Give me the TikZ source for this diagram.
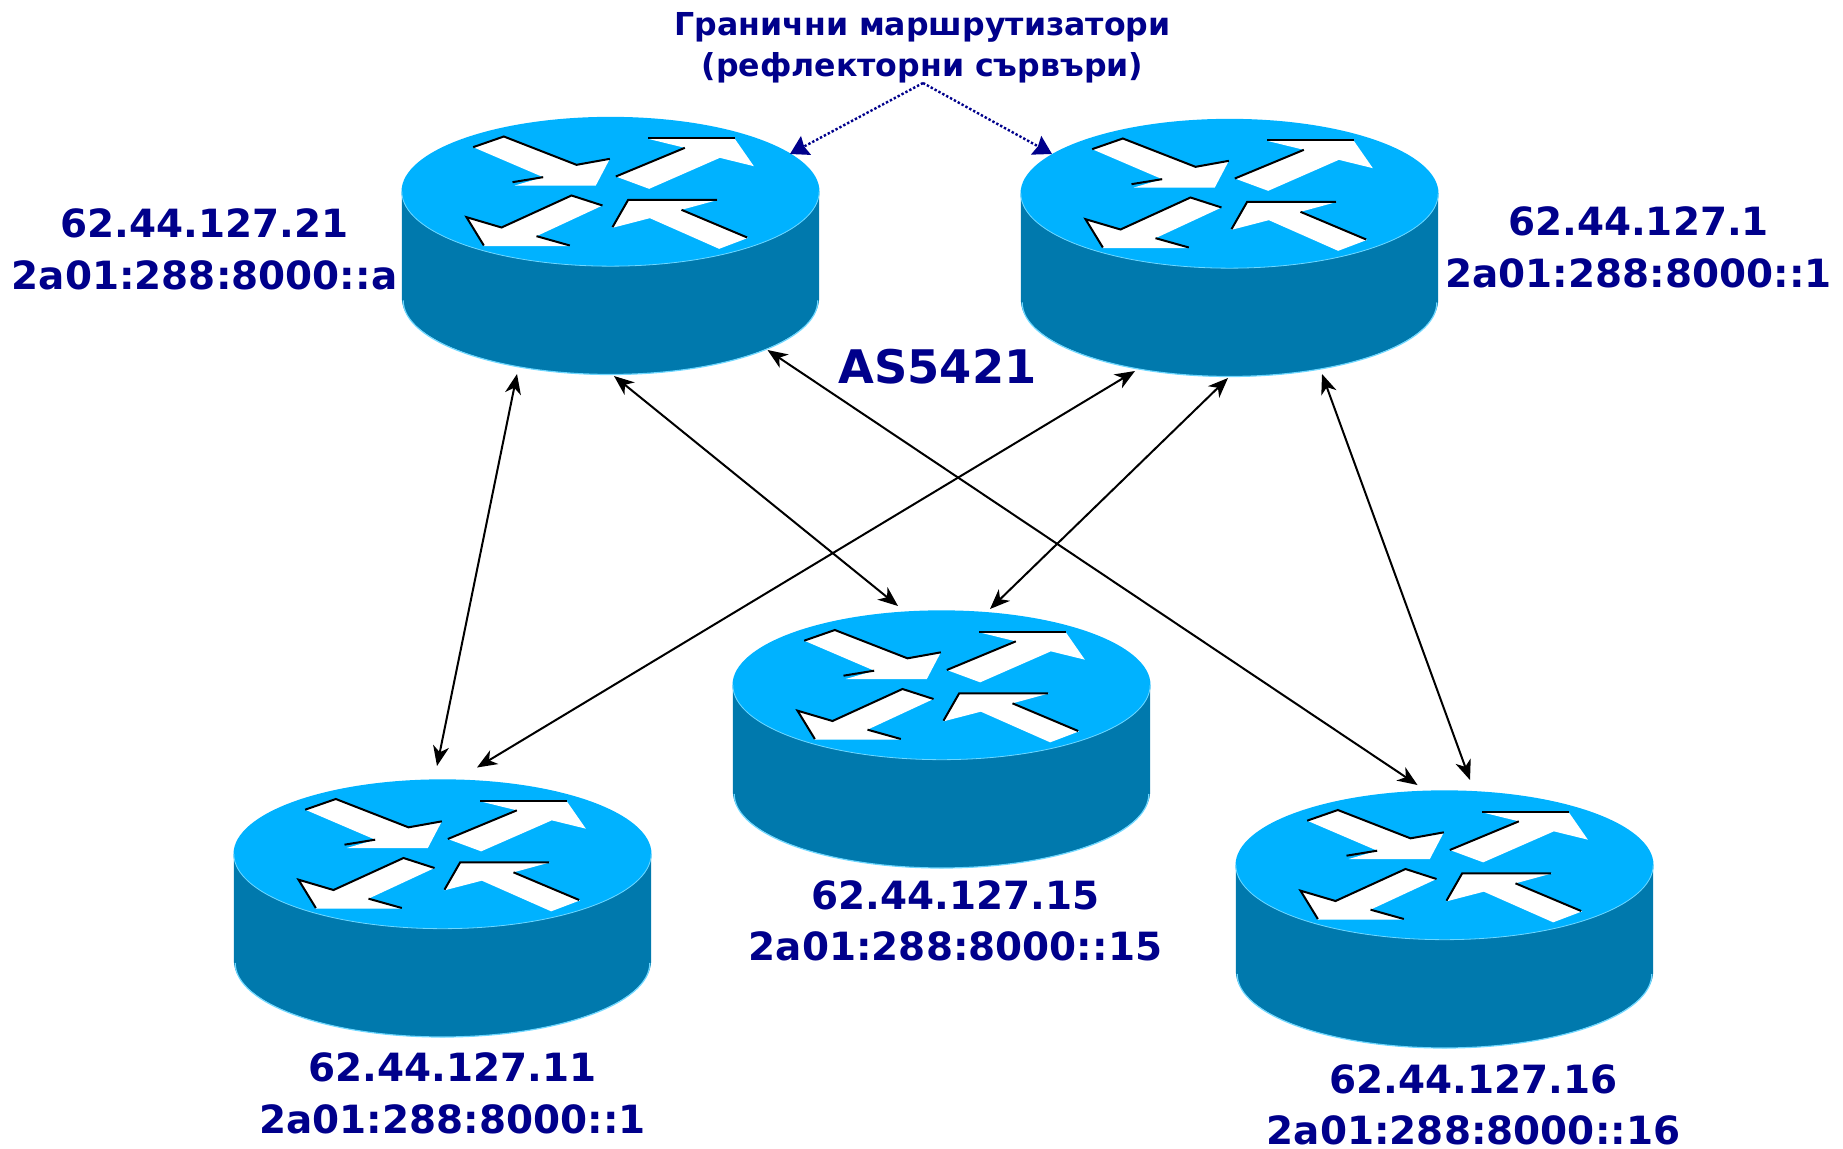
\documentclass[tikz,border=0pt]{standalone}
\usepackage{fontspec}
\setmainfont{DejaVu Sans}
\usetikzlibrary{arrows.meta}
\definecolor{rtop}{RGB}{0,178,255}
\definecolor{rside}{RGB}{0,121,173}
\definecolor{redge}{RGB}{110,215,255}
\definecolor{navy}{RGB}{0,0,139}
\tikzset{
  x=1pt,y=-1pt,
  addr/.style={text=navy,align=center,inner sep=0pt,font=\fontsize{38.9}{51.5}\selectfont\bfseries},
  link/.style={black,line width=2pt,{Stealth[length=20pt,width=16pt,inset=6pt]}-{Stealth[length=20pt,width=16pt,inset=6pt]}},
  refl/.style={navy,line width=2.4pt,dash pattern=on 2.4pt off 2pt,-{Stealth[length=18pt,width=21pt,inset=2pt]}},
  blk/.style={black,line width=2pt,line join=miter},
  pics/router/.style={code={
    \begin{scope}[scale=0.33333,shift={(-692,-273)}]
      \fill[rside] (66,273) -- (66,592) arc[start angle=180,end angle=0,x radius=626,y radius=230] -- (1318,273) -- cycle;
      \draw[redge,line width=1.2pt] (70,600) arc[start angle=180,end angle=0,x radius=622,y radius=222];
      \fill[rtop] (692,273) ellipse[x radius=627,y radius=224];
      \draw[redge,line width=0.8pt] (66,273) arc[start angle=180,end angle=0,x radius=626,y radius=224];
      \fill[white] (280,140) -- (372,108) -- (590,195) -- (690,175) -- (648,255) -- (405,255) -- (490,230) -- cycle;
      \draw[blk] (280,140) -- (372,108) -- (590,193) -- (690,175);
      \draw[blk] (398,245) -- (490,230);
      \fill[white] (805,115) -- (1065,115) -- (1122,197) -- (1020,172) -- (808,265) -- (708,228) -- (915,142) -- cycle;
      \draw[blk] (805,113) -- (1065,113);
      \draw[blk] (708,228) -- (915,142);
      \fill[white] (260,350) -- (365,380) -- (575,285) -- (668,315) -- (470,407) -- (570,437) -- (312,437) -- cycle;
      \draw[blk] (312,435) -- (260,350) -- (365,381) -- (575,285) -- (668,315);
      \draw[blk] (470,407) -- (570,435);
      \fill[white] (698,382) -- (745,298) -- (1015,298) -- (905,328) -- (1105,412) -- (1018,445) -- (810,353) -- cycle;
      \draw[blk] (698,380) -- (745,298) -- (1012,298);
      \draw[blk] (905,328) -- (1102,411);
    \end{scope}
  }}
}
\begin{document}
\begin{tikzpicture}
\useasboundingbox (0,0) rectangle (1843,1148);
\pic at (610.5,191.5) {router};
\pic at (1229.5,193.5) {router};
\pic at (941.5,685) {router};
\pic at (442.5,854) {router};
\pic at (1444.5,865) {router};

\node[addr] (l1) at (204.5,249.5) {62.44.127.21\\2a01:288:8000::a};
\node[addr] (l2) at (1638.5,247.5) {62.44.127.1\\2a01:288:8000::1};
\node[addr] (l3) at (955.5,921) {62.44.127.15\\2a01:288:8000::15};
\node[addr] (l4) at (452.5,1093.5) {62.44.127.11\\2a01:288:8000::1};
\node[addr] (l5) at (1473.5,1105) {62.44.127.16\\2a01:288:8000::16};
\node[text=navy,inner sep=0pt,font=\fontsize{46.3}{50}\selectfont\bfseries] (as) at (937.5,367) {AS5421};
\node[text=navy,align=center,inner sep=0pt,font=\fontsize{31.6}{41}\selectfont\bfseries] (title) at (922.5,48) {Гранични маршрутизатори\\(рефлекторни сървъри)};

\coordinate (a1) at (517,374); \coordinate (a4) at (437,766);
\coordinate (b1) at (614,376); \coordinate (b3) at (898,606);
\coordinate (c1) at (767.5,350); \coordinate (c5) at (1417.5,785);
\coordinate (d2) at (1135,371); \coordinate (d4) at (477,767.5);
\coordinate (e2) at (1228,378); \coordinate (e3) at (990,609);
\coordinate (f2) at (1322,374); \coordinate (f5) at (1470,780);
\coordinate (apex) at (923,83); \coordinate (t1) at (790,154); \coordinate (t2) at (1052,154);

\draw[link] (a1) -- (a4);
\draw[link] (b1) -- (b3);
\draw[link] (c1) -- (c5);
\draw[link] (d2) -- (d4);
\draw[link] (e2) -- (e3);
\draw[link] (f2) -- (f5);
\draw[refl] (apex) -- (t1);
\draw[refl] (apex) -- (t2);
\end{tikzpicture}
\end{document}
